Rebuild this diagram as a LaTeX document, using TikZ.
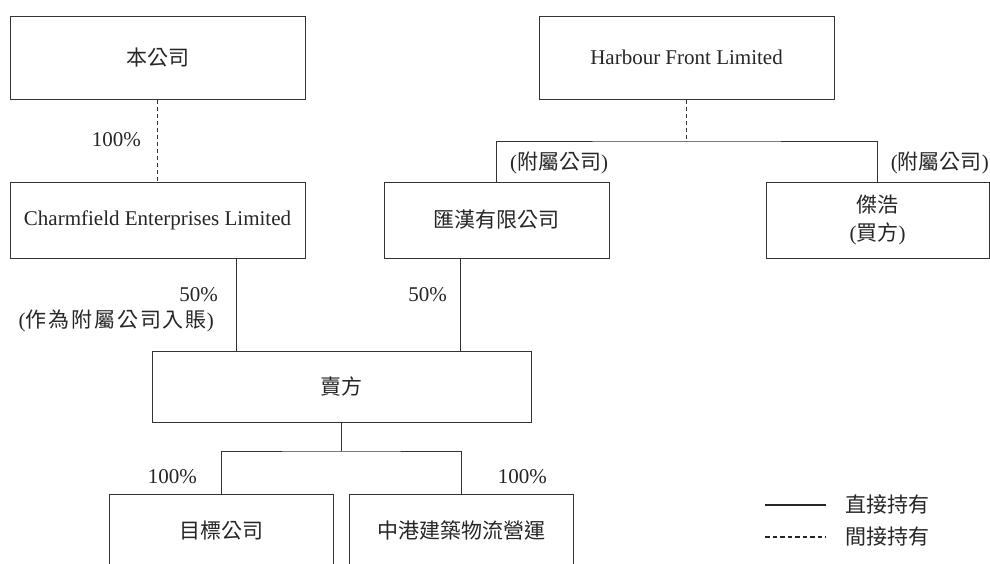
\documentclass[tikz,border=0pt]{standalone}
\usepackage{fontspec}
\setmainfont{Liberation Serif}
\newfontfamily\cjk{Noto Sans CJK TC}
\newfontfamily\cjkwide{Noto Sans CJK TC}[LetterSpace=9]
\begin{document}
\begin{tikzpicture}[x=1pt,y=-1pt,
  box/.style={draw=black!80, line width=1pt, fill=white, inner sep=0pt,
    text=black!85, font=\fontsize{21}{28}\selectfont, align=center},
  lbl/.style={inner sep=0pt, text=black!85, font=\fontsize{21}{26}\selectfont},
  link/.style={draw=black!80, line width=1pt},
  indirect/.style={link, dash pattern=on 4pt off 3pt},
  legsolid/.style={draw=black!85, line width=2.4pt},
  legdash/.style={draw=black!85, line width=2pt, dash pattern=on 4.5pt off 3pt}]
\useasboundingbox (0,0) rectangle (990,563);
\fill[white] (0,0) rectangle (990,563);
\clip (0,0) rectangle (990,563);

% boxes
\node[box, minimum width=295pt, minimum height=83pt] (ben) at (157.5,57.5) {\cjk 本公司};
\node[box, minimum width=295pt, minimum height=83pt] (harbour) at (686.5,57.5) {Harbour Front Limited};
\node[box, minimum width=295pt, minimum height=76pt] (charm) at (157.5,220) {Charmfield Enterprises Limited};
\node[box, minimum width=225pt, minimum height=76pt] (huihan) at (496.5,220) {\cjk 匯漢有限公司};
\node[box, minimum width=223pt, minimum height=76pt] (jiehao) at (877.5,220) {{\cjk 傑浩}\\({\cjk 買方})};
\node[box, minimum width=379pt, minimum height=71pt] (seller) at (341.5,386.5) {\cjk 賣方};
\node[box, minimum width=224pt, minimum height=72pt] (target) at (221,530) {\cjk 目標公司};
\node[box, minimum width=224pt, minimum height=72pt] (zhong) at (461,530) {\cjk 中港建築物流營運};

% helper coordinates
\coordinate (hbar) at (686.5,141);
\coordinate (sbar) at (341.5,451);
\coordinate (c1) at (236,0);
\coordinate (c2) at (460.5,0);

% connectors
\draw[indirect] (ben.south) -- (charm.north);
\draw[indirect] (harbour.south) -- (hbar);
\draw[link] (huihan.north) |- (hbar) -| (jiehao.north);
\draw[link] (charm.south -| c1) -- (seller.north -| c1);
\draw[link] (huihan.south -| c2) -- (seller.north -| c2);
\draw[link] (seller.south) -- (sbar);
\draw[link] (target.north) |- (sbar) -| (zhong.north);

% labels
\node[lbl, anchor=east] (l100a) at (141,140) {100\%};
\node[lbl] (sub1) at (559,163) {({\cjk 附屬公司})};
\node[lbl, anchor=east] (sub2) at (989,163) {({\cjk 附屬公司})};
\node[lbl, anchor=east] (l50a) at (218,295) {50\%};
\node[lbl, anchor=east] (acct) at (214,321) {({\cjkwide 作為附屬公司入賬})};
\node[lbl, anchor=east] (l50b) at (447,295) {50\%};
\node[lbl, anchor=east] (l100b) at (197,477) {100\%};
\node[lbl, anchor=east] (l100c) at (547,477) {100\%};

% legend
\coordinate (ls1) at (765,505);
\coordinate (ls2) at (826,505);
\coordinate (ld1) at (765,537);
\coordinate (ld2) at (826,537);
\draw[legsolid] (ls1) -- (ls2);
\draw[legdash] (ld1) -- (ld2);
\node[lbl, anchor=west] (legA) at (845,505) {\cjk 直接持有};
\node[lbl, anchor=west] (legB) at (845,537) {\cjk 間接持有};
\end{tikzpicture}
\end{document}
